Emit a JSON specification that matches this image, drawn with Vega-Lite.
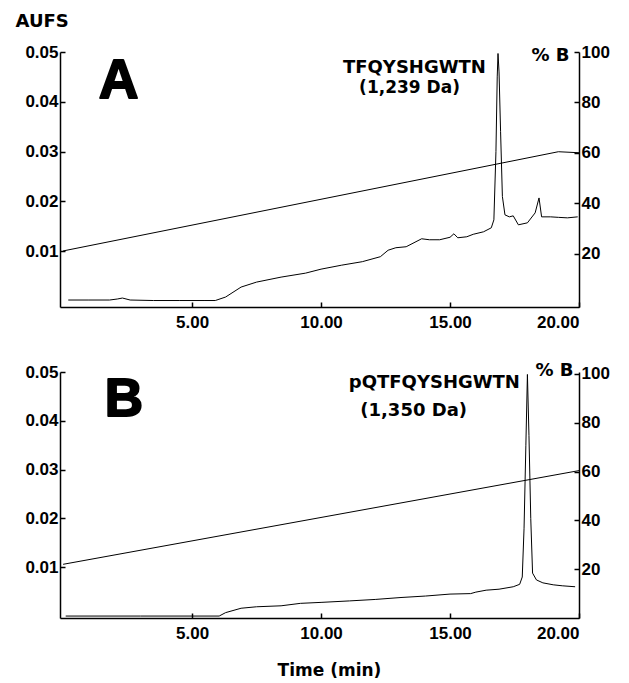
{
  "$schema": "https://vega.github.io/schema/vega-lite/v6.json",
  "background": "white",
  "padding": {"left": 15, "top": 12, "right": 5, "bottom": 2},
  "config": {
    "view": {"stroke": null},
    "axis": {
      "grid": false,
      "domainColor": "black",
      "domainWidth": 1.5,
      "tickColor": "black",
      "tickWidth": 1.5,
      "tickSize": -5,
      "labelFont": "Liberation Sans",
      "labelFontWeight": "bold",
      "labelFontSize": 17,
      "labelColor": "black",
      "labelPadding": 7,
      "titleFont": "DejaVu Sans",
      "titleFontWeight": "bold",
      "titleFontSize": 18,
      "titleColor": "black"
    },
    "axisX": {"labelPadding": 12}
  },
  "datasets": {
    "traceA": [
      {"t": 0.2, "v": 0.0002}, {"t": 1.0, "v": 0.0002}, {"t": 1.8, "v": 0.0002}, {"t": 2.1, "v": 0.0004},
      {"t": 2.3, "v": 0.0006}, {"t": 2.6, "v": 0.0002}, {"t": 3.5, "v": 0.0001}, {"t": 4.5, "v": 0.0001},
      {"t": 5.5, "v": 0.0001}, {"t": 5.9, "v": 0.0001}, {"t": 6.3, "v": 0.0008}, {"t": 6.9, "v": 0.0028},
      {"t": 7.5, "v": 0.0038}, {"t": 8.45, "v": 0.0048}, {"t": 9.4, "v": 0.0056}, {"t": 10.0, "v": 0.0064},
      {"t": 10.8, "v": 0.0072}, {"t": 11.6, "v": 0.0079}, {"t": 12.3, "v": 0.0089}, {"t": 12.6, "v": 0.0102},
      {"t": 12.9, "v": 0.0107}, {"t": 13.3, "v": 0.0109}, {"t": 13.9, "v": 0.0125}, {"t": 14.2, "v": 0.0123},
      {"t": 14.6, "v": 0.0123}, {"t": 15.0, "v": 0.0128}, {"t": 15.15, "v": 0.0135}, {"t": 15.3, "v": 0.0127},
      {"t": 15.65, "v": 0.0129}, {"t": 15.9, "v": 0.0134}, {"t": 16.3, "v": 0.0139}, {"t": 16.6, "v": 0.0147},
      {"t": 16.7, "v": 0.0163}, {"t": 16.78, "v": 0.03}, {"t": 16.83, "v": 0.045}, {"t": 16.86, "v": 0.0497},
      {"t": 16.9, "v": 0.046}, {"t": 16.96, "v": 0.034}, {"t": 17.03, "v": 0.021}, {"t": 17.13, "v": 0.0173},
      {"t": 17.3, "v": 0.0169}, {"t": 17.45, "v": 0.0171}, {"t": 17.65, "v": 0.0153}, {"t": 18.0, "v": 0.0157},
      {"t": 18.3, "v": 0.0177}, {"t": 18.45, "v": 0.0207}, {"t": 18.55, "v": 0.0169}, {"t": 18.9, "v": 0.0169},
      {"t": 19.2, "v": 0.0168}, {"t": 19.55, "v": 0.0167}, {"t": 19.95, "v": 0.0169}
    ],
    "gradA": [{"t": 0, "b": 21.2}, {"t": 19.2, "b": 60.5}, {"t": 20, "b": 60.1}],
    "traceB": [
      {"t": 0.1, "v": 0.0}, {"t": 3.0, "v": 0.0}, {"t": 6.05, "v": 0.0}, {"t": 6.3, "v": 0.0007},
      {"t": 6.9, "v": 0.0016}, {"t": 7.5, "v": 0.0019}, {"t": 8.45, "v": 0.0021}, {"t": 9.2, "v": 0.0026},
      {"t": 10.0, "v": 0.0028}, {"t": 11.1, "v": 0.0031}, {"t": 12.1, "v": 0.0034}, {"t": 13.1, "v": 0.0038},
      {"t": 14.05, "v": 0.0041}, {"t": 15.0, "v": 0.0045}, {"t": 15.8, "v": 0.0046}, {"t": 16.0, "v": 0.0049},
      {"t": 16.4, "v": 0.0053}, {"t": 16.9, "v": 0.0055}, {"t": 17.45, "v": 0.006}, {"t": 17.7, "v": 0.0065},
      {"t": 17.8, "v": 0.008}, {"t": 17.87, "v": 0.018}, {"t": 17.94, "v": 0.035}, {"t": 18.0, "v": 0.0495},
      {"t": 18.06, "v": 0.037}, {"t": 18.13, "v": 0.02}, {"t": 18.2, "v": 0.0088}, {"t": 18.35, "v": 0.0074},
      {"t": 18.6, "v": 0.0068}, {"t": 19.0, "v": 0.0064}, {"t": 19.35, "v": 0.0062}, {"t": 19.85, "v": 0.006}
    ],
    "gradB": [{"t": 0, "b": 22}, {"t": 20, "b": 60.4}],
    "one": [{}]
  },
  "spacing": 31,
  "vconcat": [
    {
      "width": 519,
      "height": 255,
      "layer": [
        {
          "layer": [
            {
              "data": {"name": "traceA"},
              "mark": {"type": "line", "color": "black", "strokeWidth": 1},
              "encoding": {
                "x": {"field": "t", "type": "quantitative", "scale": {"domain": [-0.12, 20], "nice": false, "zero": false},
                      "axis": {"values": [5, 10, 15, 20], "format": ".2f", "title": null}},
                "y": {"field": "v", "type": "quantitative", "scale": {"domain": [-0.0012, 0.05], "nice": false, "zero": false},
                      "axis": {"values": [0.01, 0.02, 0.03, 0.04, 0.05], "format": ".2f", "title": "AUFS",
                               "titleAngle": 0, "titleAlign": "left", "titleBaseline": "alphabetic", "titleX": -45, "titleY": -26}}
              }
            },
            {
              "data": {"name": "one"},
              "mark": {"type": "text", "text": "A", "font": "Liberation Sans", "fontWeight": "bold", "fontSize": 55,
                       "align": "center", "baseline": "alphabetic", "color": "black", "stroke": "black", "strokeWidth": 2, "strokeJoin": "round"},
              "encoding": {"x": {"datum": 2.15, "type": "quantitative"}, "y": {"datum": 0.0408, "type": "quantitative"}}
            },
            {
              "data": {"name": "one"},
              "mark": {"type": "text", "text": "TFQYSHGWTN", "font": "DejaVu Sans", "fontWeight": "bold", "fontSize": 18,
                       "align": "center", "baseline": "alphabetic", "color": "black"},
              "encoding": {"x": {"datum": 13.62, "type": "quantitative"}, "y": {"datum": 0.0458, "type": "quantitative"}}
            },
            {
              "data": {"name": "one"},
              "mark": {"type": "text", "text": "(1,239 Da)", "font": "DejaVu Sans", "fontWeight": "bold", "fontSize": 17,
                       "align": "center", "baseline": "alphabetic", "color": "black"},
              "encoding": {"x": {"datum": 13.43, "type": "quantitative"}, "y": {"datum": 0.0418, "type": "quantitative"}}
            }
          ]
        },
        {
          "data": {"name": "gradA"},
          "mark": {"type": "line", "color": "black", "strokeWidth": 1},
          "encoding": {
            "x": {"field": "t", "type": "quantitative"},
            "y": {"field": "b", "type": "quantitative", "scale": {"domain": [-1, 100], "nice": false, "zero": false},
                  "axis": {"orient": "right", "values": [20, 40, 60, 80, 100], "title": "% B",
                           "titleAngle": 0, "titleAlign": "right", "titleBaseline": "alphabetic", "titleX": -10, "titleY": 8}}
          }
        }
      ],
      "resolve": {"scale": {"y": "independent"}}
    },
    {
      "width": 519,
      "height": 246,
      "layer": [
        {
          "layer": [
            {
              "data": {"name": "traceB"},
              "mark": {"type": "line", "color": "black", "strokeWidth": 1},
              "encoding": {
                "x": {"field": "t", "type": "quantitative", "scale": {"domain": [-0.12, 20], "nice": false, "zero": false},
                      "axis": {"values": [5, 10, 15, 20], "format": ".2f", "title": "Time (min)", "titlePadding": 21, "titleFontSize": 17, "titleX": 269}},
                "y": {"field": "v", "type": "quantitative", "scale": {"domain": [-0.0004, 0.05], "nice": false, "zero": false},
                      "axis": {"values": [0.01, 0.02, 0.03, 0.04, 0.05], "format": ".2f", "title": null}}
              }
            },
            {
              "data": {"name": "one"},
              "mark": {"type": "text", "text": "B", "font": "Liberation Sans", "fontWeight": "bold", "fontSize": 53,
                       "align": "center", "baseline": "alphabetic", "color": "black", "stroke": "black", "strokeWidth": 2, "strokeJoin": "round"},
              "encoding": {"x": {"datum": 2.36, "type": "quantitative"}, "y": {"datum": 0.041, "type": "quantitative"}}
            },
            {
              "data": {"name": "one"},
              "mark": {"type": "text", "text": "pQTFQYSHGWTN", "font": "DejaVu Sans", "fontWeight": "bold", "fontSize": 18,
                       "align": "right", "baseline": "alphabetic", "color": "black"},
              "encoding": {"x": {"datum": 17.71, "type": "quantitative"}, "y": {"datum": 0.0468, "type": "quantitative"}}
            },
            {
              "data": {"name": "one"},
              "mark": {"type": "text", "text": "(1,350 Da)", "font": "DejaVu Sans", "fontWeight": "bold", "fontSize": 18,
                       "align": "center", "baseline": "alphabetic", "color": "black"},
              "encoding": {"x": {"datum": 13.59, "type": "quantitative"}, "y": {"datum": 0.041, "type": "quantitative"}}
            }
          ]
        },
        {
          "data": {"name": "gradB"},
          "mark": {"type": "line", "color": "black", "strokeWidth": 1},
          "encoding": {
            "x": {"field": "t", "type": "quantitative"},
            "y": {"field": "b", "type": "quantitative", "scale": {"domain": [0, 100.8], "nice": false, "zero": false},
                  "axis": {"orient": "right", "values": [20, 40, 60, 80, 100], "title": "% B",
                           "titleAngle": 0, "titleAlign": "right", "titleBaseline": "alphabetic", "titleX": -6, "titleY": 3}}
          }
        }
      ],
      "resolve": {"scale": {"y": "independent"}}
    }
  ]
}
